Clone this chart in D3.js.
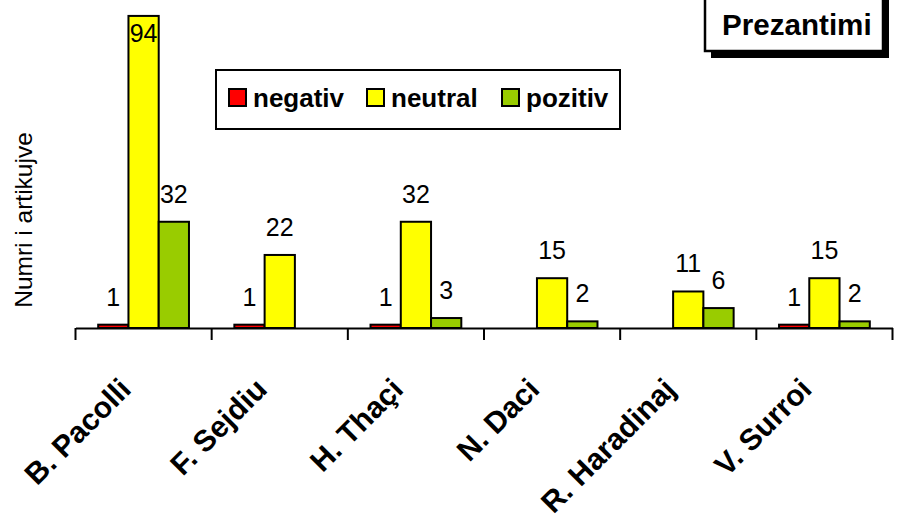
<!DOCTYPE html>
<html>
<head>
<meta charset="utf-8">
<script src="https://cdn.jsdelivr.net/npm/d3@7"></script>
<style>
  body { margin: 0; background: #fff; }
  text { font-family: "Liberation Sans", Arial, sans-serif; }
</style>
</head>
<body>
<div id="chart"></div>
<script>
var categories = ["B. Pacolli", "F. Sejdiu", "H. Thaçi", "N. Daci", "R. Haradinaj", "V. Surroi"]
var seriesNames = ["negativ", "neutral", "pozitiv"]
var negativ = [1, 1, 1, 0, 0, 1]
var neutral = [94, 22, 32, 15, 11, 15]
var pozitiv = [32, 0, 3, 2, 6, 2]
var colors = ["#ff0000", "#ffff00", "#99cc00"]

var width = 899, height = 518

var svg = d3.select("#chart").append("svg")
  .attr("width", width)
  .attr("height", height)

var values = [negativ, neutral, pozitiv]
var rows = []
categories.forEach(function (c, i) {
  seriesNames.forEach(function (s, j) {
    rows.push({ cat: c, series: s, value: values[j][i], color: colors[j] })
  })
})

// scales
var xScale = d3.scaleBand().domain(categories).range([75.5, 892.5])
var bw = xScale.bandwidth()
var x1 = d3.scaleBand().domain(seriesNames).range([bw / 6, bw * 5 / 6])
var yScale = d3.scaleLinear().domain([0, 100]).range([328, -4])

// bars
var bars = svg.selectAll(".bar")
  .data(rows.filter(function (d) { return d.value > 0 }))
  .enter()
  .append("g")

bars.append("rect")
  .attr("x", function (d) { return xScale(d.cat) + x1(d.series) })
  .attr("y", function (d) { return yScale(d.value) })
  .attr("width", x1.bandwidth())
  .attr("height", function (d) { return yScale(0) - yScale(d.value) })
  .attr("fill", function (d) { return d.color })
  .attr("stroke", "#000")
  .attr("stroke-width", 2)

// labels, pushed inside when they would leave the plot
bars.append("text")
  .attr("x", function (d) { return xScale(d.cat) + x1(d.series) + x1.bandwidth() / 2 })
  .attr("y", function (d) { return Math.max(yScale(d.value) - 19, 42) })
  .attr("text-anchor", "middle")
  .attr("font-size", 25)
  .attr("fill", "#000")
  .text(function (d) { return d.value })

// x axis
var xAxis = d3.axisBottom(xScale).tickSize(0).tickFormat("")
var axisG = svg.append("g")
  .attr("transform", "translate(0,328)")
  .call(xAxis)
axisG.select(".domain").attr("stroke", "#000").attr("stroke-width", 2)

var tickPos = categories.map(function (c) { return xScale(c) }).concat([xScale.range()[1]])
axisG.selectAll(".sep")
  .data(tickPos)
  .enter()
  .append("line")
  .attr("x1", function (d) { return d })
  .attr("x2", function (d) { return d })
  .attr("y1", 0)
  .attr("y2", 12)
  .attr("stroke", "#000")
  .attr("stroke-width", 2)

svg.selectAll(".cat")
  .data(categories)
  .enter()
  .append("text")
  .attr("class", "cat")
  .attr("transform", function (d) {
    return "translate(" + (xScale(d) + bw / 2 - 11) + ",391) rotate(-45)"
  })
  .attr("text-anchor", "end")
  .attr("font-size", 30)
  .attr("font-weight", "bold")
  .text(function (d) { return d })

// y title
svg.append("text")
  .attr("transform", "translate(32,220) rotate(-90)")
  .attr("text-anchor", "middle")
  .attr("font-size", 24.5)
  .text("Numri i artikujve")

// legend
var legend = svg.append("g")
legend.append("rect")
  .attr("x", 216).attr("y", 70)
  .attr("width", 404).attr("height", 59)
  .attr("fill", "#fff").attr("stroke", "#000").attr("stroke-width", 2)

var legendX = [229, 367, 502]
var items = legend.selectAll(".item")
  .data(seriesNames)
  .enter()
  .append("g")
  .attr("transform", function (d, i) { return "translate(" + legendX[i] + ",0)" })

items.append("rect")
  .attr("x", 0).attr("y", 89)
  .attr("width", 17).attr("height", 17)
  .attr("fill", function (d, i) { return colors[i] })
  .attr("stroke", "#000").attr("stroke-width", 2)

items.append("text")
  .attr("x", 24).attr("y", 107)
  .attr("font-size", 26)
  .attr("font-weight", "bold")
  .text(function (d) { return d })

// title box with shadow
svg.append("rect")
  .attr("x", 711).attr("y", -4)
  .attr("width", 178).attr("height", 62)
  .attr("fill", "#000")
svg.append("rect")
  .attr("x", 705).attr("y", -10)
  .attr("width", 178).attr("height", 61)
  .attr("fill", "#fff").attr("stroke", "#000").attr("stroke-width", 2.5)
svg.append("text")
  .attr("x", 722).attr("y", 35)
  .attr("font-size", 29.6)
  .attr("font-weight", "bold")
  .text("Prezantimi")
</script>
</body>
</html>
